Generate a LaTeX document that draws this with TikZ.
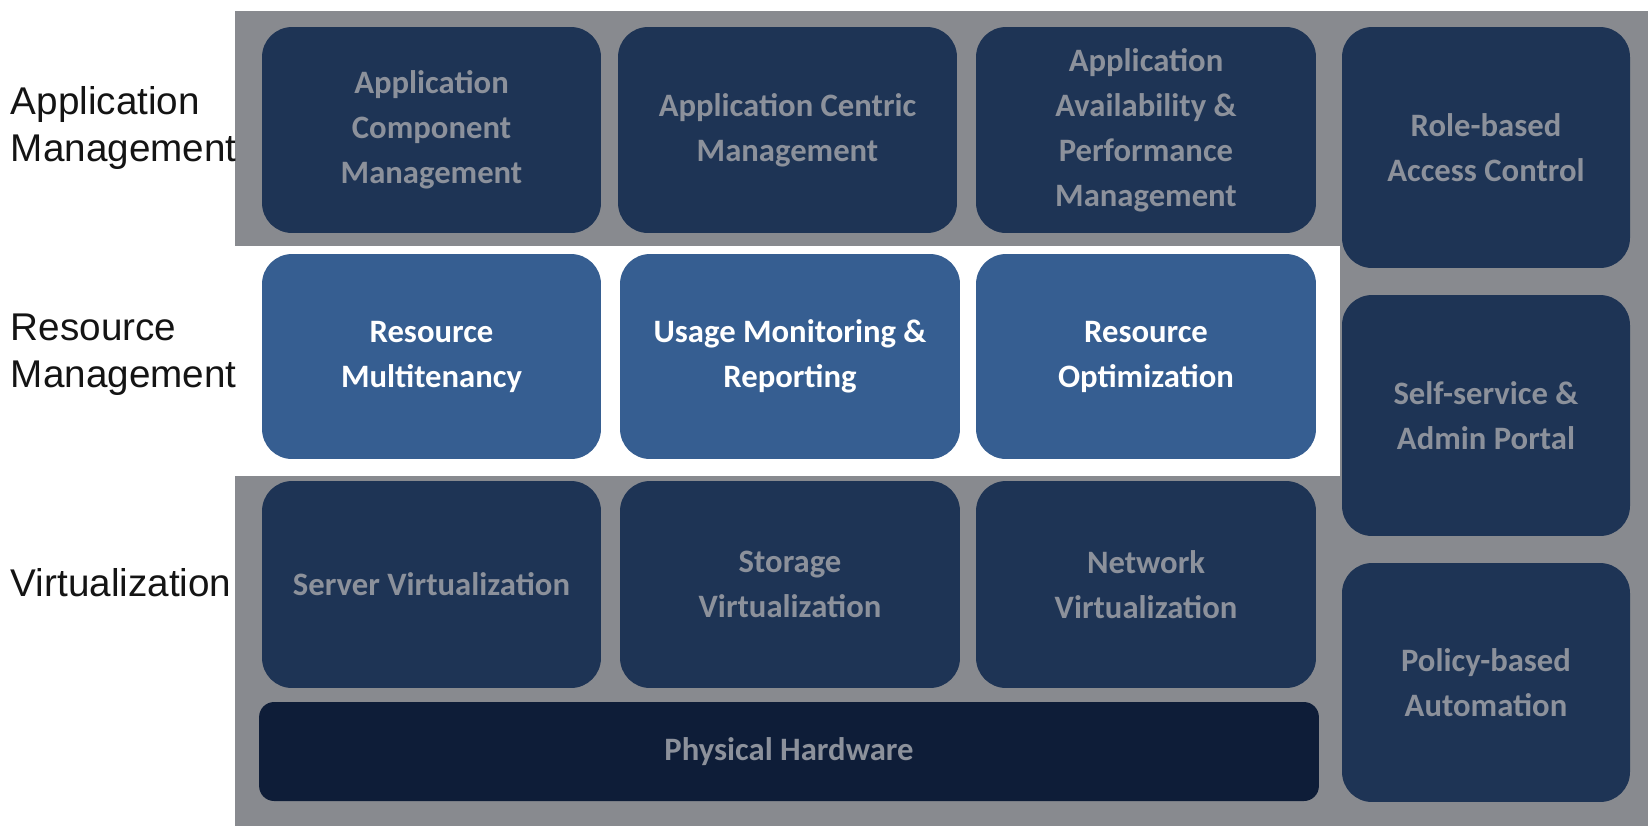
\documentclass[tikz,border=0pt]{standalone}
\usepackage{fontspec}
\setmainfont{Liberation Sans}
\newfontfamily\boxfont{Carlito}
\definecolor{bggray}{RGB}{136,138,143}
\definecolor{navy}{RGB}{30,52,85}
\definecolor{midblue}{RGB}{54,94,145}
\definecolor{deepnavy}{RGB}{14,29,56}
\definecolor{boxtext}{RGB}{140,145,155}
\definecolor{labeltext}{RGB}{20,20,20}
\tikzset{
  darkbox/.style={rectangle, rounded corners=0.6cm, fill=navy, draw=none, text=boxtext,
    align=center, inner sep=0pt,
    font=\boxfont\bfseries\fontsize{18.6pt}{25.6pt}\selectfont},
  bluebox/.style={darkbox, fill=midblue, text=white},
  hwbox/.style={darkbox, fill=deepnavy, rounded corners=0.3cm},
  layerlabel/.style={anchor=west, align=left, inner sep=0pt, text=labeltext,
    font=\fontsize{22pt}{26.6pt}\selectfont}
}
\begin{document}
\begin{tikzpicture}[x=0.02cm,y=-0.02cm]
\useasboundingbox (0,0) rectangle (1648,826);
% background panels
\fill[bggray] (235,10.5) rectangle (1648,826);
\fill[white] (235,246) rectangle (1340,476);
% application management row
\node[darkbox, minimum width=6.78cm, minimum height=4.12cm] (acm) at (431.5,130) {Application\\Component\\Management};
\node[darkbox, minimum width=6.78cm, minimum height=4.12cm] (acentric) at (787.5,130) {Application Centric\\Management};
\node[darkbox, minimum width=6.80cm, minimum height=4.12cm] (aapm) at (1146,130) {Application\\Availability \&\\Performance\\Management};
% resource management row
\node[bluebox, minimum width=6.78cm, minimum height=4.10cm] (rmt) at (431.5,356.5) {Resource\\Multitenancy};
\node[bluebox, minimum width=6.80cm, minimum height=4.10cm] (umr) at (790,356.5) {Usage Monitoring \&\\Reporting};
\node[bluebox, minimum width=6.80cm, minimum height=4.10cm] (ropt) at (1146,356.5) {Resource\\Optimization};
% virtualization row
\node[darkbox, minimum width=6.78cm, minimum height=4.14cm] (sv) at (431.5,584.5) {Server Virtualization};
\node[darkbox, minimum width=6.80cm, minimum height=4.14cm] (stv) at (790,584.5) {Storage\\Virtualization};
\node[darkbox, minimum width=6.80cm, minimum height=4.14cm] (nv) at (1146,584.5) {Network\\Virtualization};
% physical hardware
\node[hwbox, minimum width=21.2cm, minimum height=1.98cm] (ph) at (789,751.5) {Physical Hardware};
% right column
\node[darkbox, minimum width=5.76cm, minimum height=4.82cm] (rbac) at (1486,147.5) {Role-based\\Access Control};
\node[darkbox, minimum width=5.76cm, minimum height=4.82cm] (ssp) at (1486,415.5) {Self-service \&\\Admin Portal};
\node[darkbox, minimum width=5.76cm, minimum height=4.78cm] (pba) at (1486,682.5) {Policy-based\\Automation};
% layer labels
\node[layerlabel] (lapp) at (10.5,128) {Application\\Management};
\node[layerlabel] (lres) at (10.5,355) {Resource\\Management};
\node[layerlabel] (lvirt) at (10.5,583) {Virtualization};
\end{tikzpicture}
\end{document}
